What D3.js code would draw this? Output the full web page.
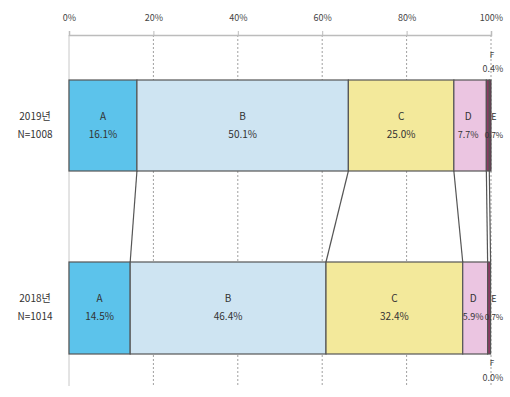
<!DOCTYPE html>
<html>
<head>
<meta charset="utf-8">
<script src="https://cdn.jsdelivr.net/npm/d3@7"></script>
<style>
  html, body { margin: 0; padding: 0; background: #fff; }
  svg text { font-family: "Noto Sans CJK KR", "Noto Sans", sans-serif; }
</style>
</head>
<body>
<svg id="chart" width="510" height="397"></svg>
<script>
// Response shares by year (percent)
const segments = ["A", "B", "C", "D", "E", "F"];
const years = ["2019년", "2018년"];
const sampleSizes = ["N=1008", "N=1014"];
const values2019 = [16.1, 50.1, 25.0, 7.7, 0.7, 0.4];
const values2018 = [14.5, 46.4, 32.4, 5.9, 0.7, 0.0];
const tickValues = [0, 20, 40, 60, 80, 100];
const colors = ["#5cc3eb", "#cee4f2", "#f3e99b", "#ebc5e1", "#8c3a63", "#6b2a4c"];

const svg = d3.select("#chart");
const x = d3.scaleLinear().domain([0, 100]).range([69, 491]);
const axisY = 35;
const gridBottom = 386;
const rows = [
  { name: years[0], n: sampleSizes[0], values: values2019, top: 80, bottom: 171 },
  { name: years[1], n: sampleSizes[1], values: values2018, top: 262, bottom: 354 }
];
rows.forEach(r => {
  let acc = 0;
  r.segs = r.values.map((v, i) => {
    const s = { key: segments[i], v, x0: acc, x1: acc + v, color: colors[i] };
    acc += v;
    return s;
  });
});

// Gridlines
svg.append("g").selectAll("line")
  .data(tickValues)
  .join("line")
  .attr("x1", d => x(d)).attr("x2", d => x(d))
  .attr("y1", axisY).attr("y2", gridBottom)
  .attr("stroke", d => d === 0 ? "#c8c8c8" : "#a0a0a0")
  .attr("stroke-width", 1)
  .attr("stroke-dasharray", d => d === 0 ? null : "2,2");

// Top axis
const axis = d3.axisTop(x)
  .tickValues(tickValues)
  .tickFormat(d => d + "%")
  .tickSize(4)
  .tickPadding(10);
const axisG = svg.append("g").attr("transform", `translate(0,${axisY})`).call(axis);
axisG.select(".domain").attr("stroke", "#bcbcbc").attr("stroke-width", 1.5);
axisG.selectAll(".tick line").attr("stroke", "#bcbcbc");
axisG.selectAll(".tick text")
  .attr("fill", "#444")
  .style("font-size", "9px");

// Connectors between matching segment boundaries
const connectors = d3.range(1, segments.length).map(i => ({
  a: rows[0].segs[i - 1].x1,
  b: rows[1].segs[i - 1].x1
})).filter(d => d.a < 99.9 || d.b < 99.9);
svg.append("g").selectAll("line")
  .data(connectors)
  .join("line")
  .attr("x1", d => x(d.a)).attr("y1", rows[0].bottom)
  .attr("x2", d => x(d.b)).attr("y2", rows[1].top)
  .attr("stroke", "#555")
  .attr("stroke-width", 1.2);

// Label position: small end segments get their text nudged to the right edge
function labelX(s) {
  if (s.key === "E") return x(100) + 3;
  return x((s.x0 + s.x1) / 2) - (s.key === "D" ? 2 : 0);
}
function labelSize(s) {
  return s.key === "E" ? "8px" : (s.key === "D" ? "9px" : "10px");
}

// Bars
rows.forEach(r => {
  const g = svg.append("g");
  g.selectAll("rect")
    .data(r.segs.filter(s => s.v > 0))
    .join("rect")
    .attr("x", s => x(s.x0))
    .attr("y", r.top)
    .attr("width", s => x(s.x1) - x(s.x0))
    .attr("height", r.bottom - r.top)
    .attr("fill", s => s.color)
    .attr("stroke", "#555")
    .attr("stroke-width", 1.2);

  const mid = (r.top + r.bottom) / 2;
  // Row labels
  g.append("text").attr("x", 35).attr("y", mid - 6).attr("text-anchor", "middle")
    .style("font-size", "10px").attr("fill", "#333").text(r.name);
  g.append("text").attr("x", 35).attr("y", mid + 12).attr("text-anchor", "middle")
    .style("font-size", "10px").attr("fill", "#333").text(r.n);

  // Segment labels inside bars (A-E)
  const inside = r.segs.filter(s => s.key !== "F");
  g.selectAll("text.nm")
    .data(inside)
    .join("text")
    .attr("class", "nm")
    .attr("x", labelX)
    .attr("y", mid - 6)
    .attr("text-anchor", "middle")
    .style("font-size", s => s.key === "E" ? "9px" : "10px")
    .attr("fill", "#333")
    .text(s => s.key);
  g.selectAll("text.val")
    .data(inside)
    .join("text")
    .attr("class", "val")
    .attr("x", labelX)
    .attr("y", mid + 12)
    .attr("text-anchor", "middle")
    .style("font-size", labelSize)
    .attr("fill", "#333")
    .text(s => s.v.toFixed(1) + "%");
});

// F labels outside the bars
const f2019 = rows[0].segs[5];
const f2018 = rows[1].segs[5];
const fx = x(100) + 1;
[[f2019, 58, 72], [f2018, 366, 381]].forEach(([s, y1, y2]) => {
  svg.append("text").attr("x", fx).attr("y", y1).attr("text-anchor", "middle")
    .style("font-size", "8px").attr("fill", "#444").text(s.key);
  svg.append("text").attr("x", fx + 1).attr("y", y2).attr("text-anchor", "middle")
    .style("font-size", "9px").attr("fill", "#444").text(s.v.toFixed(1) + "%");
});
</script>
</body>
</html>
